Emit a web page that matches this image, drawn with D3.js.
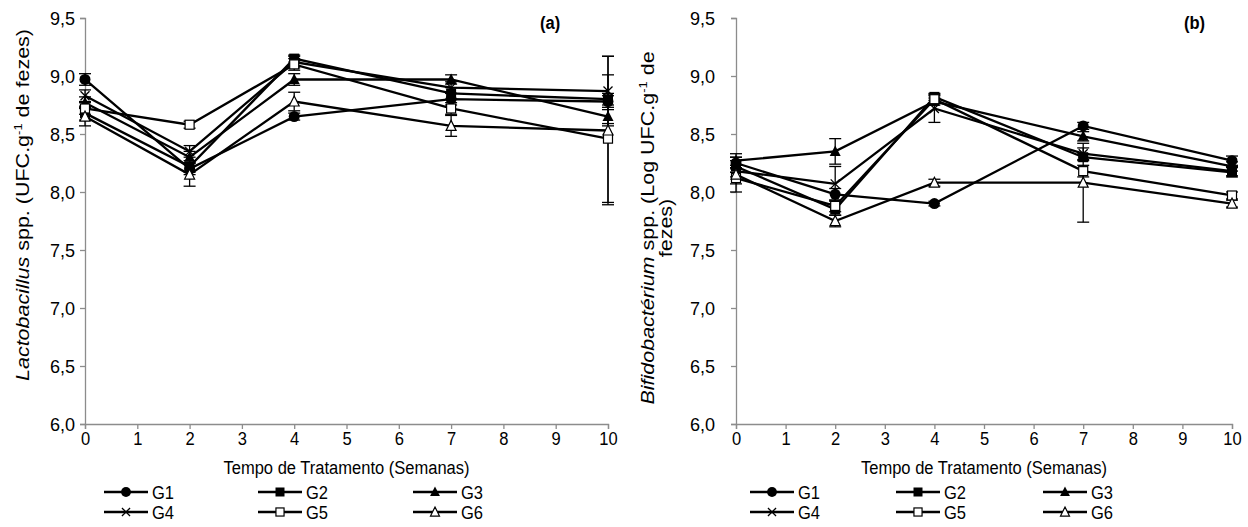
<!DOCTYPE html>
<html><head><meta charset="utf-8">
<script src="https://cdn.jsdelivr.net/npm/d3@7"></script>
<style>body{margin:0;background:#fff}svg{display:block;font-family:"Liberation Sans",Arial,sans-serif}</style>
</head><body><svg id="c" width="1248" height="527"></svg>
<script>
const weeks = [0, 2, 4, 7, 10];
const groups = ["G1", "G2", "G3", "G4", "G5", "G6"];
const xTicks = [0,1,2,3,4,5,6,7,8,9,10];
const yTicks = [6.0,6.5,7.0,7.5,8.0,8.5,9.0,9.5];

// Panel (a) Lactobacillus
const lacG1 = [8.97, 8.20, 8.65, 8.80, 8.78];
const lacG2 = [8.68, 8.22, 9.15, 8.85, 8.80];
const lacG3 = [8.77, 8.30, 8.97, 8.97, 8.65];
const lacG4 = [8.83, 8.35, 9.12, 8.90, 8.87];
const lacG5 = [8.72, 8.58, 9.10, 8.72, 8.46];
const lacG6 = [8.65, 8.15, 8.78, 8.57, 8.53];
const lacErrG1 = [0.05, 0.05, 0.03, 0.05, 0.05];
const lacErrG2 = [0.06, 0.05, 0.03, 0.05, 0.05];
const lacErrG3 = [0.05, 0.05, 0.05, 0.04, 0.06];
const lacErrG4 = [0.05, 0.05, 0.05, 0.05, 0.30];
const lacErrG5 = [0.05, 0.03, 0.05, 0.05, 0.55];
const lacErrG6 = [0.08, 0.10, 0.08, 0.09, 0.64];

// Panel (b) Bifidobacterium
const bifG1 = [8.25, 7.98, 7.90, 8.57, 8.27];
const bifG2 = [8.22, 7.85, 8.82, 8.30, 8.17];
const bifG3 = [8.27, 8.35, 8.78, 8.48, 8.22];
const bifG4 = [8.18, 8.07, 8.72, 8.33, 8.18];
const bifG5 = [8.12, 7.88, 8.80, 8.18, 7.97];
const bifG6 = [8.15, 7.75, 8.08, 8.08, 7.90];
const bifErrG1 = [0.05, 0.05, 0.02, 0.03, 0.04];
const bifErrG2 = [0.05, 0.05, 0.03, 0.03, 0.04];
const bifErrG3 = [0.06, 0.11, 0.03, 0.04, 0.04];
const bifErrG4 = [0.05, 0.15, 0.12, 0.05, 0.04];
const bifErrG5 = [0.05, 0.05, 0.03, 0.05, 0.03];
const bifErrG6 = [0.15, 0.05, 0.03, 0.34, 0.03];

const markerTypes = ["circle", "square", "triangle", "cross", "osquare", "otriangle"];

const FS = 19, SX = 0.87;
const svg = d3.select("#c");

function htext(g, x, y, str, anchor) {
  return g.append("text").attr("transform", `translate(${x},${y}) scale(${SX},1)`)
    .attr("font-size", FS).attr("text-anchor", anchor || "start").text(str);
}

function marker(g, type, x, y, s) {
  s = s || 1;
  if (type === "circle") g.append("circle").attr("cx", x).attr("cy", y).attr("r", 5.5*s).attr("fill", "#000");
  else if (type === "square") g.append("rect").attr("x", x-5*s).attr("y", y-5*s).attr("width", 10*s).attr("height", 10*s).attr("fill", "#000");
  else if (type === "triangle") g.append("path").attr("d", `M${x},${y-6*s}L${x+5.5*s},${y+4.5*s}L${x-5.5*s},${y+4.5*s}Z`).attr("fill", "#000");
  else if (type === "cross") g.append("path").attr("d", `M${x-4.5*s},${y-4.5*s}L${x+4.5*s},${y+4.5*s}M${x-4.5*s},${y+4.5*s}L${x+4.5*s},${y-4.5*s}`).attr("stroke", "#000").attr("stroke-width", 1.3);
  else if (type === "osquare") g.append("rect").attr("x", x-4.5*s).attr("y", y-4.5*s).attr("width", 9*s).attr("height", 9*s).attr("fill", "#fff").attr("stroke", "#000").attr("stroke-width", 1.2);
  else if (type === "otriangle") g.append("path").attr("d", `M${x},${y-5.5*s}L${x+5*s},${y+4.5*s}L${x-5*s},${y+4.5*s}Z`).attr("fill", "#fff").attr("stroke", "#000").attr("stroke-width", 1.2);
}

function panel(opt) {
  const x = d3.scaleLinear().domain([0, 10]).range(opt.xr);
  const y = d3.scaleLinear().domain([6, 9.5]).range([424, 18]);
  const g = svg.append("g");
  const ya = g.append("g").attr("transform", `translate(${opt.xr[0]},0)`)
    .call(d3.axisLeft(y).tickValues(yTicks).tickSize(5).tickPadding(opt.ypad).tickFormat(d => d3.format(".1f")(d).replace(".", ",")));
  const xa = g.append("g").attr("transform", `translate(0,424)`)
    .call(d3.axisBottom(x).tickValues(xTicks).tickSize(5).tickPadding(3));
  [ya, xa].forEach(a => {
    a.select(".domain").attr("stroke", "#8c8c8c").attr("stroke-width", 1.3);
    a.selectAll(".tick line").attr("stroke", "#8c8c8c").attr("stroke-width", 1.3);
    a.selectAll("text").attr("font-size", FS).attr("fill", "#000").attr("font-family", "Liberation Sans, Arial, sans-serif");
  });
  ya.selectAll(".tick text").attr("x", -(5 + opt.ypad) / 0.95).attr("transform", `scale(0.95,1)`);
  xa.selectAll(".tick text").attr("transform", `scale(${SX},1)`);

  const line = d3.line().x((d, i) => x(weeks[i])).y(d => y(d));
  opt.series.forEach(s => {
    g.append("path").datum(s).attr("d", line).attr("fill", "none").attr("stroke", "#000").attr("stroke-width", 2.3);
  });
  opt.series.forEach((s, k) => {
    s.forEach((v, i) => {
      const e = opt.errs[k][i];
      const px = x(weeks[i]);
      g.append("line").attr("x1", px).attr("x2", px).attr("y1", y(v - e)).attr("y2", y(v + e)).attr("stroke", "#000").attr("stroke-width", 1.3);
      [v - e, v + e].forEach(t => g.append("line").attr("x1", px - 6).attr("x2", px + 6).attr("y1", y(t)).attr("y2", y(t)).attr("stroke", "#000").attr("stroke-width", 1.3));
    });
  });
  opt.series.forEach((s, k) => {
    s.forEach((v, i) => marker(g, markerTypes[k], x(weeks[i]), y(v)));
  });

  htext(g, opt.labelX, 29, opt.label).attr("font-weight", "bold");
  htext(g, (opt.xr[0] + opt.xr[1]) / 2, 474, "Tempo de Tratamento (Semanas)", "middle");

  const yt = g.append("text").attr("transform", `translate(${opt.ytX},${opt.ytY}) rotate(-90) scale(1,${SX})`)
    .attr("text-anchor", "middle").attr("font-size", opt.ytFS);
  opt.ytitle(yt);

  groups.forEach((name, k) => {
    const col = k % 3, row = Math.floor(k / 3);
    const lx = opt.legX[col], ly = 492 + row * 20;
    g.append("line").attr("x1", lx).attr("x2", lx + 44).attr("y1", ly).attr("y2", ly).attr("stroke", "#000").attr("stroke-width", 2.3);
    marker(g, markerTypes[k], lx + 22, ly, 0.9);
    htext(g, lx + 48, ly + 7, name);
  });
}

panel({
  xr: [85, 608], ypad: 5, label: "(a)", labelX: 540,
  series: [lacG1, lacG2, lacG3, lacG4, lacG5, lacG6],
  errs: [lacErrG1, lacErrG2, lacErrG3, lacErrG4, lacErrG5, lacErrG6],
  legX: [104, 258, 413],
  ytX: 29, ytY: 205, ytFS: 21.5,
  ytitle: t => {
    t.append("tspan").attr("font-style", "italic").text("Lactobacillus");
    t.append("tspan").text(" spp. (UFC.g");
    t.append("tspan").attr("font-size", 13).attr("dy", -8).text("-1");
    t.append("tspan").attr("dy", 8).text(" de fezes)");
  }
});

panel({
  xr: [736, 1232], ypad: 16, label: "(b)", labelX: 1184,
  series: [bifG1, bifG2, bifG3, bifG4, bifG5, bifG6],
  errs: [bifErrG1, bifErrG2, bifErrG3, bifErrG4, bifErrG5, bifErrG6],
  legX: [750, 896, 1043],
  ytX: 654, ytY: 228, ytFS: 21.5,
  ytitle: t => {
    t.append("tspan").attr("font-style", "italic").text("Bifidobactérium");
    t.append("tspan").text(" spp. (Log UFC.g");
    t.append("tspan").attr("font-size", 13).attr("dy", -8).text("-1");
    t.append("tspan").attr("dy", 8).text(" de");
    t.append("tspan").attr("x", 0).attr("dy", 21).text("fezes)");
  }
});
</script></body></html>
